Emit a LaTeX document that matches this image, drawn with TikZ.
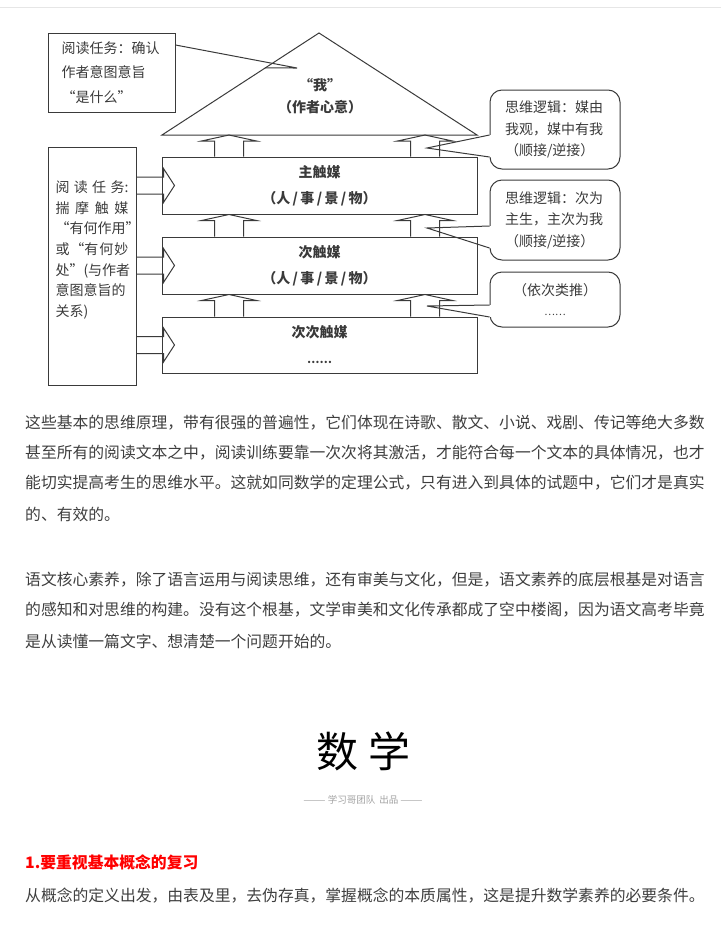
\documentclass[tikz,border=0pt]{standalone}
\usepackage{fontspec}
\usepackage{graphicx}
\setmainfont{Noto Sans CJK SC}
\usetikzlibrary{calc}
\definecolor{inkline}{HTML}{3A3A3A}
\definecolor{bodytext}{HTML}{3E3E3E}
\definecolor{headred}{HTML}{FF0000}
\definecolor{rulegray}{HTML}{E6E6E6}
\definecolor{creditgray}{HTML}{A0A0A0}
\begin{document}
\begin{tikzpicture}[x=1pt,y=1pt,
    dline/.style={draw=inkline,line width=1pt},
    dfont/.style={font=\fontsize{14}{21.5}\selectfont,text=inkline},
    layer/.style={dline,minimum width=315pt,inner sep=0pt,align=center,
        text=inkline,font=\fontsize{14}{26}\selectfont\bfseries},
    bubble/.style={dline,dfont,rounded corners=12pt,minimum width=130pt,
        inner sep=0pt,text width=100pt,align=left},
    para/.style={anchor=west,inner sep=0pt,text=bodytext,
        font=\fontsize{15.8}{20}\selectfont}]
    \useasboundingbox (0,0) rectangle (721,-929);
    \draw[rulegray] (0,-7) -- (721,-7);

    % roof: the author's own view
    \coordinate (apex) at (319,-33);
    \coordinate (roofL) at (162,-135);
    \coordinate (roofR) at (477,-135);
    \draw[dline] (roofL) -- (apex) -- (roofR) -- cycle;
    \node[align=center,text=inkline,font=\fontsize{14}{22}\selectfont\bfseries]
        (me) at (320,-96) {“我”\\（作者心意）};

    % the three layers of media
    \node[layer,minimum height=57pt] (main) at (319.5,-185.5)
        {主触媒\\（人\,/\,事\,/\,景\,/\,物）};
    \node[layer,minimum height=57pt] (sub) at (319.5,-265.5)
        {次触媒\\（人\,/\,事\,/\,景\,/\,物）};
    \node[layer,minimum height=56pt] (subsub) at (319.5,-345)
        {次次触媒\\{\fontsize{11}{20}\selectfont ……}};

    % upward block arrows
    \foreach \lo/\hi in {main.north/roofL,sub.north/main.south,subsub.north/sub.south}
        \foreach \x in {229,425}
            \draw[dline] ($(\x,0 |- \lo)+(-14.5,0)$) -- ($(\x,0 |- \hi)+(-14.5,-6)$)
                -- ++(-13,0) -- (\x,0 |- \hi) -- ($(\x,0 |- \hi)+(27.5,-6)$)
                -- ++(-13,0) -- ($(\x,0 |- \lo)+(14.5,0)$);

    % reading task on the left
    \node[dline,minimum width=88pt,minimum height=238pt] (task) at (92,-266) {};
    \node[dfont,text width=73pt,align=left,inner sep=0pt,
        font=\fontsize{14}{20.7}\selectfont] (tasktext) at (92,-250)
        {\makebox[73pt][s]{阅\hfill 读\hfill 任\hfill 务:}\\
         \makebox[73pt][s]{揣\hfill 摩\hfill 触\hfill 媒}\\
         \makebox[73pt][s]{“有\hfill 何\hfill 作\hfill 用”}\\
         \makebox[73pt][s]{或\hfill “有\hfill 何\hfill 妙}\\
         \makebox[73pt][s]{处”(与\hfill 作\hfill 者}\\
         意图意旨的\\
         关系)};
    \foreach \b in {main,sub,subsub}
        \draw[dline] ($(task.east |- \b.west)+(0,8.5)$) -- ($(\b.west)+(2,8.5)$)
            -- ++(0,8.5) -- ($(\b.west)+(13,0)$) -- ($(\b.west)+(2,-17)$)
            -- ++(0,8.5) -- ($(task.east |- \b.west)+(0,-8.5)$);

    % callout at the top left
    \node[dline,dfont,minimum width=127pt,minimum height=79pt,inner sep=0pt,
        text width=100pt,align=left,font=\fontsize{14}{24.5}\selectfont]
        (readtask) at (111.5,-72.5) {阅读任务：确认\\作者意图意旨\\“是什么”};
    \coordinate (tip0) at (297,-68);
    \draw[dline] (readtask.east |- 0,-45) -- (tip0) -- ($(apex)!0.343!(roofL)$);

    % callouts on the right
    \node[bubble,minimum height=79pt] (logic1) at (555,-129.5)
        {思维逻辑：媒由\\我观，媒中有我\\（顺接/逆接）};
    \node[bubble,minimum height=80pt] (logic2) at (555,-220)
        {思维逻辑：次为\\主生，主次为我\\（顺接/逆接）};
    \node[bubble,minimum height=55pt,align=center,font=\fontsize{14}{20}\selectfont]
        (etc) at (555,-299.5) {（依次类推）\\{\fontsize{10}{20}\selectfont ……}};
    \coordinate (tip1) at (427,-148);
    \coordinate (tip2) at (427,-228);
    \coordinate (tip3) at (427,-306);
    \foreach \c/\t/\ya/\yb in {logic1/tip1/-135/-157,logic2/tip2/-226/-248,etc/tip3/-305/-317}{
        \draw[white,line width=3pt] (\c.west |- 0,\ya) -- (\c.west |- 0,\yb);
        \draw[dline] (\c.west |- 0,\ya) -- (\t) -- (\c.west |- 0,\yb);
    }

    % article text
    \node[para] (para1a) at (25,-423) {这些基本的思维原理，带有很强的普遍性，它们体现在诗歌、散文、小说、戏剧、传记等绝大多数};
    \node[para] (para1b) at (25,-453) {甚至所有的阅读文本之中，阅读训练要靠一次次将其激活，才能符合每一个文本的具体情况，也才};
    \node[para] (para1c) at (25,-483) {能切实提高考生的思维水平。这就如同数学的定理公式，只有进入到具体的试题中，它们才是真实};
    \node[para] (para1d) at (25,-514) {的、有效的。};
    \node[para] (para2a) at (25,-580) {语文核心素养，除了语言运用与阅读思维，还有审美与文化，但是，语文素养的底层根基是对语言};
    \node[para] (para2b) at (25,-610) {的感知和对思维的构建。没有这个根基，文学审美和文化传承都成了空中楼阁，因为语文高考毕竟};
    \node[para] (para2c) at (25,-641) {是从读懂一篇文字、想清楚一个问题开始的。};

    \node[inner sep=0pt,font=\fontsize{42}{42}\selectfont] (title) at (363.5,-751)
        {数\hspace{10pt}学};
    \node[inner sep=0pt,text=creditgray,font=\fontsize{9.5}{9.5}\selectfont] (credit)
        at (363,-800) {\scalebox{1.4}[1]{——} 学习哥团队\hspace{4pt}出品 \scalebox{1.4}[1]{——}};

    \node[para,text=headred,font=\fontsize{15.8}{20}\selectfont\bfseries] (head1)
        at (25,-862) {1.要重视基本概念的复习};
    \node[para] (para3a) at (25,-896) {从概念的定义出发，由表及里，去伪存真，掌握概念的本质属性，这是提升数学素养的必要条件。};
\end{tikzpicture}
\end{document}
